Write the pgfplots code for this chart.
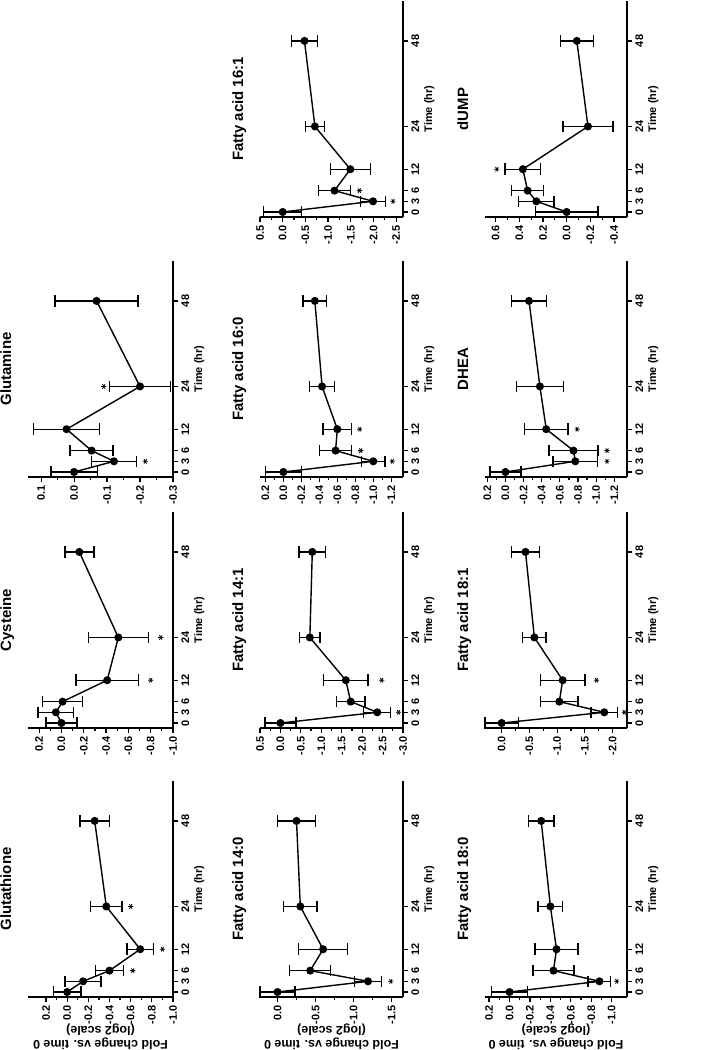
\documentclass[border=0pt]{standalone}
\usepackage{fontspec}
\setmainfont{Liberation Sans}
\usepackage{graphicx}
\usepackage{pgfplots}
\pgfplotsset{compat=1.18}

% the figure is drawn landscape and turned a quarter to the left
\pgfplotsset{
  panel/.style={
    width=216bp, scale only axis, anchor=south west, clip=false,
    xmin=-1.4, xmax=59.2,
    axis x line*=bottom, axis y line*=left,
    xtick={0,3,6,12,24,48},
    minor y tick num=1,
    tick align=outside,
    major tick length=5bp, minor tick length=3bp,
    every tick/.style={black, line width=1.2bp},
    axis line style={line width=1.3bp},
    /pgf/number format/assume math mode=true,
    ticklabel style={font=\bfseries\fontsize{11}{13}\selectfont},
    yticklabel style={/pgf/number format/.cd, fixed, fixed zerofill, precision=1},
    xlabel={Time (hr)},
    xlabel style={font=\bfseries\fontsize{11}{13}\selectfont, yshift=2bp},
    title style={font=\bfseries\fontsize{15}{18}\selectfont, at={(0.5,1)}, anchor=base, yshift=11bp},
    ylabel style={font=\bfseries\fontsize{12.5}{14}\selectfont, align=center, yshift=-7bp},
  },
  series/.style={black, line width=1.4bp, mark=*, mark size=3.3bp,
    mark options={solid, fill=black},
    error bars/.cd, y dir=both, y explicit,
    error bar style={line width=1.4bp},
    error mark options={rotate=90, line width=1.4bp, mark size=5.8bp, black}},
  sig/.style={only marks, mark=asterisk, mark size=2.6bp, black, mark options={line width=0.8bp}},
}
\newcommand{\ylab}{Fold change vs. time 0\\(log2 scale)}

\begin{document}
\rotatebox{90}{%
\begin{tikzpicture}
\useasboundingbox (0,0) rectangle (1050bp,-726bp);

% ---- row 1
\begin{axis}[panel, at={(53bp,-173bp)}, height=145bp, title={Glutathione},
  ymin=-1, ymax=0.37, ytick={-1,-0.8,-0.6,-0.4,-0.2,0,0.2}, ylabel={\ylab}]
\addplot+[series] coordinates {(0,0) +- (0,0.13) (3,-0.15) +- (0,0.17) (6,-0.40) +- (0,0.13)
  (12,-0.69) +- (0,0.125) (24,-0.37) +- (0,0.15) (48,-0.26) +- (0,0.14)};
\addplot[sig] coordinates {(6,-0.62) (12,-0.90) (24,-0.60)};
\end{axis}

\begin{axis}[panel, at={(322bp,-173bp)}, height=145bp, title={Cysteine},
  ymin=-1, ymax=0.3, ytick={-1,-0.8,-0.6,-0.4,-0.2,0,0.2}]
\addplot+[series] coordinates {(0,0) +- (0,0.14) (3,0.05) +- (0,0.16) (6,-0.01) +- (0,0.18)
  (12,-0.41) +- (0,0.28) (24,-0.51) +- (0,0.27) (48,-0.16) +- (0,0.13)};
\addplot[sig] coordinates {(12,-0.80) (24,-0.89)};
\end{axis}

\begin{axis}[panel, at={(573bp,-173bp)}, height=145bp, title={Glutamine},
  ymin=-0.3, ymax=0.14, ytick={-0.3,-0.2,-0.1,0,0.1}]
\addplot+[series] coordinates {(0,0) +- (0,0.07) (3,-0.121) +- (0,0.068) (6,-0.053) +- (0,0.065)
  (12,0.023) +- (0,0.10) (24,-0.20) +- (0,0.092) (48,-0.068) +- (0,0.126)};
\addplot[sig] coordinates {(3,-0.216) (24,-0.09)};
\end{axis}

% ---- row 2
\begin{axis}[panel, at={(53bp,-403bp)}, height=143bp, title={Fatty acid 14:0},
  ymin=-1.65, ymax=0.23, ytick={-1.5,-1,-0.5,0}, ylabel={\ylab}]
\addplot+[series] coordinates {(0,0) +- (0,0.23) (3,-1.19) +- (0,0.18) (6,-0.43) +- (0,0.27)
  (12,-0.60) +- (0,0.32) (24,-0.30) +- (0,0.22) (48,-0.25) +- (0,0.25)};
\addplot[sig] coordinates {(3,-1.49)};
\end{axis}

\begin{axis}[panel, at={(322bp,-403bp)}, height=143bp, title={Fatty acid 14:1},
  ymin=-3, ymax=0.5, ytick={-3,-2.5,-2,-1.5,-1,-0.5,0,0.5}]
\addplot+[series] coordinates {(0,0) +- (0,0.38) (3,-2.37) +- (0,0.33) (6,-1.72) +- (0,0.35)
  (12,-1.60) +- (0,0.54) (24,-0.72) +- (0,0.25) (48,-0.78) +- (0,0.33)};
\addplot[sig] coordinates {(3,-2.89) (12,-2.48)};
\end{axis}

\begin{axis}[panel, at={(573bp,-403bp)}, height=143bp, title={Fatty acid 16:0},
  ymin=-1.33, ymax=0.26, ytick={-1.2,-1,-0.8,-0.6,-0.4,-0.2,0,0.2}]
\addplot+[series] coordinates {(0,0) +- (0,0.20) (3,-1.00) +- (0,0.13) (6,-0.58) +- (0,0.18)
  (12,-0.60) +- (0,0.16) (24,-0.43) +- (0,0.14) (48,-0.35) +- (0,0.13)};
\addplot[sig] coordinates {(3,-1.21) (6,-0.86) (12,-0.85)};
\end{axis}

\begin{axis}[panel, at={(833bp,-403bp)}, height=143bp, title={Fatty acid 16:1},
  ymin=-2.65, ymax=0.5, ytick={-2.5,-2,-1.5,-1,-0.5,0,0.5}]
\addplot+[series] coordinates {(0,0) +- (0,0.42) (3,-1.99) +- (0,0.28) (6,-1.14) +- (0,0.35)
  (12,-1.49) +- (0,0.44) (24,-0.71) +- (0,0.21) (48,-0.48) +- (0,0.28)};
\addplot[sig] coordinates {(3,-2.43) (6,-1.69)};
\end{axis}

% ---- row 3
\begin{axis}[panel, at={(53bp,-627bp)}, height=142bp, title={Fatty acid 18:0},
  ymin=-1.15, ymax=0.24, ytick={-1,-0.8,-0.6,-0.4,-0.2,0,0.2}, ylabel={\ylab}]
\addplot+[series] coordinates {(0,0) +- (0,0.175) (3,-0.88) +- (0,0.11) (6,-0.43) +- (0,0.20)
  (12,-0.46) +- (0,0.21) (24,-0.40) +- (0,0.12) (48,-0.31) +- (0,0.125)};
\addplot[sig] coordinates {(3,-1.05)};
\end{axis}

\begin{axis}[panel, at={(322bp,-627bp)}, height=142bp, title={Fatty acid 18:1},
  ymin=-2.26, ymax=0.3, ytick={-2,-1.5,-1,-0.5,0}]
\addplot+[series] coordinates {(0,0) +- (0,0.30) (3,-1.85) +- (0,0.24) (6,-1.04) +- (0,0.34)
  (12,-1.10) +- (0,0.40) (24,-0.59) +- (0,0.21) (48,-0.43) +- (0,0.25)};
\addplot[sig] coordinates {(3,-2.21) (12,-1.71)};
\end{axis}

\begin{axis}[panel, at={(573bp,-627bp)}, height=142bp, title={DHEA},
  ymin=-1.34, ymax=0.225, ytick={-1.2,-1,-0.8,-0.6,-0.4,-0.2,0,0.2}]
\addplot+[series] coordinates {(0,0) +- (0,0.17) (3,-0.77) +- (0,0.245) (6,-0.75) +- (0,0.27)
  (12,-0.45) +- (0,0.24) (24,-0.38) +- (0,0.26) (48,-0.26) +- (0,0.19)};
\addplot[sig] coordinates {(3,-1.12) (6,-1.12) (12,-0.79)};
\end{axis}

\begin{axis}[panel, at={(833bp,-627bp)}, height=142bp, title={dUMP},
  ymin=-0.51, ymax=0.69, ytick={-0.4,-0.2,0,0.2,0.4,0.6}]
\addplot+[series] coordinates {(0,0) +- (0,0.265) (3,0.256) +- (0,0.15) (6,0.33) +- (0,0.135)
  (12,0.37) +- (0,0.15) (24,-0.18) +- (0,0.21) (48,-0.086) +- (0,0.14)};
\addplot[sig] coordinates {(12,0.59)};
\end{axis}
\end{tikzpicture}}
\end{document}
